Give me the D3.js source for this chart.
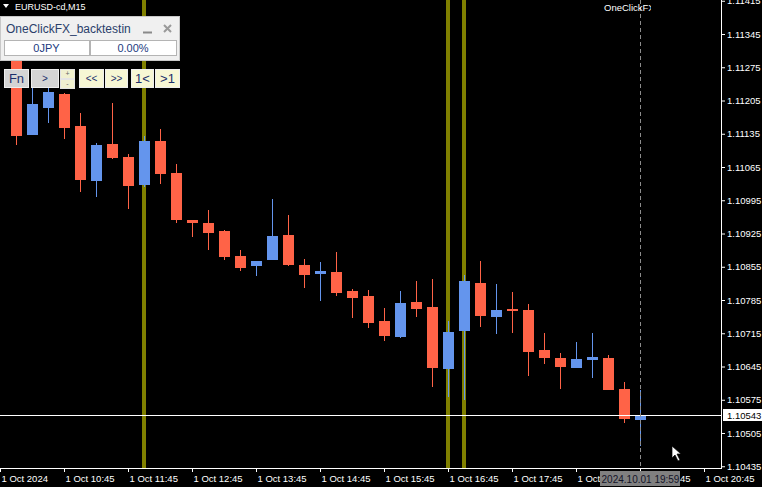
<!DOCTYPE html>
<html>
<head>
<meta charset="utf-8">
<script src="https://cdn.jsdelivr.net/npm/d3@7/dist/d3.min.js"></script>
<style>
  body { margin: 0; background: #000; }
  #chart { width: 762px; height: 487px; }
  text { font-family: "Liberation Sans", Arial, sans-serif; }
</style>
</head>
<body>
<div id="chart"></div>
<script>
//Data///////////////////////////////////////////
var barTimes = ["10:00","10:15","10:30","10:45","11:00","11:15","11:30","11:45",
                "12:00","12:15","12:30","12:45","13:00","13:15","13:30","13:45",
                "14:00","14:15","14:30","14:45","15:00","15:15","15:30","15:45",
                "16:00","16:15","16:30","16:45","17:00","17:15","17:30","17:45",
                "18:00","18:15","18:30","18:45","19:00","19:15","19:30","19:45"];
var opens  = [1.11311,1.11132,1.11189,1.11219,1.11151,1.11036,1.11113,1.11086,
              1.11027,1.11120,1.11052,1.10953,1.10947,1.10930,1.10878,1.10857,
              1.10869,1.10922,1.10859,1.10840,1.10844,1.10804,1.10793,1.10741,
              1.10707,1.10781,1.10770,1.10640,1.10720,1.10821,1.10749,1.10766,
              1.10764,1.10680,1.10663,1.10642,1.10659,1.10663,1.10598,1.10532];
var highs  = [1.11324,1.11244,1.11244,1.11221,1.11179,1.11116,1.11200,1.11092,
              1.11130,1.11145,1.11071,1.10953,1.10974,1.10932,1.10890,1.10867,
              1.10998,1.10964,1.10871,1.10865,1.10886,1.10808,1.10806,1.10768,
              1.10804,1.10825,1.10829,1.10741,1.10838,1.10867,1.10819,1.10802,
              1.10777,1.10716,1.10673,1.10697,1.10716,1.10669,1.10612,1.10596];
var lows   = [1.11111,1.11132,1.11158,1.11124,1.11012,1.11002,1.11082,1.10977,
              1.11023,1.11029,1.10947,1.10918,1.10890,1.10869,1.10846,1.10836,
              1.10869,1.10857,1.10810,1.10783,1.10793,1.10747,1.10726,1.10699,
              1.10705,1.10749,1.10602,1.10581,1.10574,1.10728,1.10713,1.10716,
              1.10625,1.10650,1.10598,1.10642,1.10621,1.10596,1.10526,1.10478];
var closes = [1.11130,1.11198,1.11223,1.11147,1.11038,1.11111,1.11084,1.11025,
              1.11120,1.11050,1.10953,1.10947,1.10926,1.10876,1.10852,1.10867,
              1.10920,1.10859,1.10838,1.10846,1.10800,1.10789,1.10737,1.10709,
              1.10779,1.10766,1.10642,1.10718,1.10825,1.10751,1.10764,1.10762,
              1.10676,1.10663,1.10644,1.10661,1.10665,1.10596,1.10535,1.10543];

var priceTicks = [1.11415,1.11345,1.11275,1.11205,1.11135,1.11065,1.10995,1.10925,
                  1.10855,1.10785,1.10715,1.10645,1.10575,1.10505,1.10435];
var timeTicks  = ["09:45","10:45","11:45","12:45","13:45","14:45","15:45",
                  "16:45","17:45","18:45","19:45","20:45"];
var timeLabels = ["1 Oct 2024","1 Oct 10:45","1 Oct 11:45","1 Oct 12:45","1 Oct 13:45",
                  "1 Oct 14:45","1 Oct 15:45","1 Oct 16:45","1 Oct 17:45","1 Oct 18:45",
                  "1 Oct 19:45","1 Oct 20:45"];
var markerTimes = ["12:00","16:45","17:00"];   // olive vertical lines
var bidPrice = 1.10543;
var cursorTime = "19:45";
var cursorLabel = "2024.10.01 19:59";

//Setup//////////////////////////////////////////
var width = 762, height = 487;
var plotW = 721, plotH = 468;
var parse = d3.timeParse("%Y-%m-%d %H:%M");
function t(s) { return parse("2024-10-01 " + s); }

var bull = "#6495ED", bear = "#FF6347", olive = "#808000";

var x = d3.scaleTime()
    .domain([t("09:45"), t("20:45")])
    .range([0, 704]);
var y = d3.scaleLinear()
    .domain([1.10505, 1.11345])
    .range([433, 34]);

var bars = barTimes.map(function(d, i) {
    return {time: t(d), o: opens[i], h: highs[i], l: lows[i], c: closes[i]};
});

var svg = d3.select('#chart')
    .append('svg')
    .attr('width', width)
    .attr('height', height);

svg.append('rect').attr('width', width).attr('height', height).attr('fill', '#000');

svg.append('clipPath').attr('id', 'plotclip')
    .append('rect').attr('width', plotW).attr('height', plotH);

var plot = svg.append('g').attr('clip-path', 'url(#plotclip)');

//Olive marker lines (behind candles)
plot.selectAll('.marker')
    .data(markerTimes)
    .enter()
    .append('rect')
    .attr('x', function(d) { return Math.round(x(t(d))) - 2; })
    .attr('y', 0)
    .attr('width', 4)
    .attr('height', plotH)
    .attr('fill', olive);

//Candles
var candle = plot.selectAll('.candle')
    .data(bars)
    .enter()
    .append('g');

candle.append('line')
    .attr('x1', function(d) { return Math.round(x(d.time)) + 0.5; })
    .attr('x2', function(d) { return Math.round(x(d.time)) + 0.5; })
    .attr('y1', function(d) { return Math.round(y(d.h)); })
    .attr('y2', function(d) { return Math.round(y(d.l)); })
    .attr('stroke', function(d) { return d.c >= d.o ? bull : bear; })
    .attr('stroke-width', 1);

candle.append('rect')
    .attr('x', function(d) { return Math.round(x(d.time)) - 5; })
    .attr('y', function(d) { return Math.round(y(Math.max(d.o, d.c))); })
    .attr('width', 11)
    .attr('height', function(d) {
        return Math.max(1, Math.round(y(Math.min(d.o, d.c))) - Math.round(y(Math.max(d.o, d.c))));
    })
    .attr('fill', function(d) { return d.c >= d.o ? bull : bear; });

//Bid line
var bidY = Math.round(y(bidPrice)) + 0.5;
plot.append('line')
    .attr('x1', 0).attr('x2', plotW)
    .attr('y1', bidY).attr('y2', bidY)
    .attr('stroke', '#fff');

//Crosshair dashed line
var cx = Math.round(x(t(cursorTime))) + 0.5;
plot.append('line')
    .attr('x1', cx).attr('x2', cx)
    .attr('y1', 0).attr('y2', plotH)
    .attr('stroke', '#8c8c8c')
    .attr('stroke-dasharray', '4,3');

//Axes///////////////////////////////////////////
var xAxis = svg.append('g')
    .attr('transform', 'translate(0,' + plotH + ')')
    .call(d3.axisBottom(x)
        .tickValues(timeTicks.map(t))
        .tickSize(4)
        .tickFormat(function(d, i) { return timeLabels[i]; }));
xAxis.select('.domain').remove();
xAxis.selectAll('line').attr('stroke', '#fff');
xAxis.selectAll('text')
    .attr('fill', '#fff')
    .attr('y', 14).attr('dy', 0)
    .attr('x', 1)
    .style('text-anchor', 'start')
    .style('font-size', '9.5px')
    .style('font-family', '"Liberation Sans", Arial, sans-serif');

var yAxis = svg.append('g')
    .attr('transform', 'translate(' + plotW + ',0)')
    .call(d3.axisRight(y)
        .tickValues(priceTicks)
        .tickSize(4)
        .tickFormat(function(d) { return d.toFixed(5); }));
yAxis.select('.domain').remove();
yAxis.selectAll('line').attr('stroke', '#fff');
yAxis.selectAll('text')
    .attr('fill', '#fff')
    .attr('x', 6)
    .style('font-size', '9.5px')
    .style('font-family', '"Liberation Sans", Arial, sans-serif');

svg.append('line')
    .attr('x1', 0).attr('x2', plotW + 1)
    .attr('y1', plotH + 0.5).attr('y2', plotH + 0.5)
    .attr('stroke', '#fff');
svg.append('line')
    .attr('x1', plotW + 0.5).attr('x2', plotW + 0.5)
    .attr('y1', 0).attr('y2', plotH + 1)
    .attr('stroke', '#fff');

//Bid price label
svg.append('rect')
    .attr('x', plotW + 2).attr('y', bidY - 6.5)
    .attr('width', 40).attr('height', 12)
    .attr('fill', '#fff');
svg.append('text')
    .attr('x', plotW + 6).attr('y', bidY + 3.5)
    .attr('fill', '#000')
    .style('font-size', '9.5px')
    .text(bidPrice.toFixed(5));

//Crosshair time label
svg.append('rect')
    .attr('x', cx - 40.5).attr('y', 471)
    .attr('width', 80).attr('height', 15)
    .attr('fill', '#808080');
svg.append('text')
    .attr('x', cx).attr('y', 482.5)
    .attr('fill', '#141428')
    .style('text-anchor', 'middle')
    .style('font-size', '10px')
    .text(cursorLabel);

//Top texts//////////////////////////////////////
svg.append('path')
    .attr('d', 'M3,4 L9,4 L6,8 Z')
    .attr('fill', '#fff');
svg.append('text')
    .attr('x', 15).attr('y', 10)
    .attr('fill', '#fff')
    .style('font-size', '9px')
    .text('EURUSD-cd,M15');

svg.append('clipPath').attr('id', 'labelclip')
    .append('rect').attr('x', 590).attr('y', 0).attr('width', 61).attr('height', 16);
svg.append('text')
    .attr('clip-path', 'url(#labelclip)')
    .attr('x', 604).attr('y', 11)
    .attr('fill', '#fff')
    .style('font-size', '9.5px')
    .text('OneClickFX');

//Panel//////////////////////////////////////////
var panel = svg.append('g');
panel.append('rect')
    .attr('x', 0.5).attr('y', 16.5)
    .attr('width', 179).attr('height', 44)
    .attr('fill', '#f0f0f0')
    .attr('stroke', '#c8c8c8');
panel.append('text')
    .attr('x', 6).attr('y', 33)
    .attr('fill', '#2b3f6b')
    .style('font-size', '12px')
    .text('OneClickFX_backtestin');
panel.append('line')
    .attr('x1', 143).attr('x2', 152).attr('y1', 32.5).attr('y2', 32.5)
    .attr('stroke', '#8a8a8a').attr('stroke-width', 2);
panel.append('path')
    .attr('d', 'M164,25 L171,32 M171,25 L164,32')
    .attr('stroke', '#9a9a9a').attr('stroke-width', 2);

var cells = [{x: 4, w: 85, label: '0JPY'}, {x: 90, w: 86, label: '0.00%'}];
panel.selectAll('.cell')
    .data(cells)
    .enter()
    .append('rect')
    .attr('x', function(d) { return d.x + 0.5; })
    .attr('y', 40.5)
    .attr('width', function(d) { return d.w; })
    .attr('height', 15)
    .attr('fill', '#fff')
    .attr('stroke', '#b4b4b4');
panel.selectAll('.celltext')
    .data(cells)
    .enter()
    .append('text')
    .attr('x', function(d) { return d.x + d.w / 2; })
    .attr('y', 52)
    .attr('fill', '#1c3a80')
    .style('text-anchor', 'middle')
    .style('font-size', '11px')
    .text(function(d) { return d.label; });

//Buttons
var buttons = [
    {x: 4,   w: 25, label: 'Fn', fill: '#d4d4d4', size: 13},
    {x: 31,  w: 28, label: '>',  fill: '#d4d4d4', size: 10},
    {x: 79,  w: 25, label: '<<', fill: '#f7f7d4', size: 10},
    {x: 105, w: 23, label: '>>', fill: '#f7f7d4', size: 10},
    {x: 131, w: 23, label: '1<', fill: '#f7f7d4', size: 13},
    {x: 155, w: 25, label: '>1', fill: '#f7f7d4', size: 13}
];
var btn = panel.selectAll('.btn')
    .data(buttons)
    .enter()
    .append('g');
btn.append('rect')
    .attr('x', function(d) { return d.x + 0.5; })
    .attr('y', 69.5)
    .attr('width', function(d) { return d.w - 1; })
    .attr('height', 18)
    .attr('fill', function(d) { return d.fill; })
    .attr('stroke', '#eeeeee');
btn.append('text')
    .attr('x', function(d) { return d.x + d.w / 2; })
    .attr('y', function(d) { return d.size > 11 ? 83 : 82; })
    .attr('fill', '#1c2f6b')
    .style('text-anchor', 'middle')
    .style('font-size', function(d) { return d.size + 'px'; })
    .text(function(d) { return d.label; });

//small +/- buttons
panel.selectAll('.pm')
    .data([{y: 69, label: '+'}, {y: 79, label: '-'}])
    .enter()
    .append('rect')
    .attr('x', 60.5).attr('y', function(d) { return d.y + 0.5; })
    .attr('width', 14).attr('height', 9)
    .attr('fill', '#f0f0d0')
    .attr('stroke', '#e4e4e4');
panel.selectAll('.pmtext')
    .data([{y: 69, label: '+'}, {y: 79, label: '-'}])
    .enter()
    .append('text')
    .attr('x', 67.5).attr('y', function(d) { return d.y + 7; })
    .attr('fill', '#666')
    .style('text-anchor', 'middle')
    .style('font-size', '7px')
    .text(function(d) { return d.label; });

//Mouse cursor
svg.append('path')
    .attr('transform', 'translate(672,446)')
    .attr('d', 'M0,0 L0,12 L3,9 L6,15 L8,14 L5,8 L9,8 Z')
    .attr('fill', '#fff')
    .attr('stroke', '#000')
    .attr('stroke-width', 0.7);
</script>
</body>
</html>
